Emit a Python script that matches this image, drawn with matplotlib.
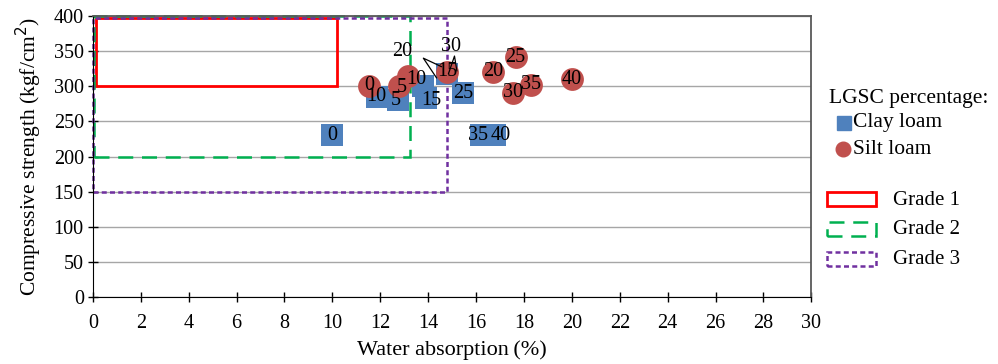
import matplotlib
matplotlib.use("Agg")
import matplotlib.pyplot as plt
from matplotlib.patches import Rectangle
from matplotlib.lines import Line2D

plt.rcParams['font.family'] = ['Liberation Serif', 'DejaVu Serif']

# LGSC percentage for each point
labels = ['0', '5', '10', '15', '20', '25', '30', '35', '40']

# clay loam: water absorption (%), compressive strength (kgf/cm2)
clay_wa = [10.0, 12.75, 11.85, 13.9, 13.8, 15.45, 14.8, 16.2, 16.8]
clay_cs = [230, 280, 285, 283, 300, 290, 318, 230, 230]

# silt loam
silt_wa = [11.55, 12.8, 13.15, 14.8, 16.7, 17.65, 17.55, 18.3, 20.0]
silt_cs = [301, 300, 314, 321, 321, 341, 291, 302, 310]

# grade limits (x0, x1, y0, y1)
grade1 = (0.12, 10.2, 300, 397)
grade2 = (0.07, 13.25, 200, 400)
grade3 = (0.0, 14.8, 150, 397)

blue = '#4F81BD'
red = '#C0504D'

fig = plt.figure(figsize=(9.98, 3.64), dpi=100)
ax = fig.add_axes([0.093, 0.184, 0.72, 0.772])

ax.set_xlim(0, 30)
ax.set_ylim(0, 400)
ax.set_xticks(range(0, 31, 2))
ax.set_yticks(range(0, 401, 50))
ax.yaxis.grid(True, color='#a6a6a6', lw=1)
ax.set_axisbelow(True)
ax.tick_params(direction='inout', length=7, width=1, labelsize=14.5, color='black')
ax.tick_params(axis='y', pad=3)
ax.tick_params(axis='x', pad=9)
for s in ['top', 'right']:
    ax.spines[s].set_color('#595959')
    ax.spines[s].set_linewidth(1.3)
for s in ['left', 'bottom']:
    ax.spines[s].set_color('black')

# grade boxes
def box(lim, **kw):
    x0, x1, y0, y1 = lim
    ax.add_patch(Rectangle((x0, y0), x1 - x0, y1 - y0, fill=False, clip_on=False, zorder=2, **kw))

box(grade1, edgecolor='#FF0000', lw=2)
box(grade2, edgecolor='#00B050', lw=1.8, linestyle=(0, (6, 3.5)))
box(grade3, edgecolor='#7030A0', lw=1.8, linestyle=(0, (2, 1.3)))

ax.scatter(clay_wa, clay_cs, marker='s', s=260, color=blue, zorder=3, linewidths=0)
ax.scatter(silt_wa, silt_cs, marker='o', s=270, color=red, zorder=4, linewidths=0)

# data labels, with manual offsets (points) where they overlap
clay_off = {'5': (-2, 0), '15': (4, -2), '35': (-2, 0), '40': (4, 0)}
silt_off = {'10': (6, -2), '5': (2, -1)}
for lab, x, y in zip(labels, clay_wa, clay_cs):
    if lab in ('20', '30'):
        continue
    dx, dy = clay_off.get(lab, (0, 0))
    ax.annotate(lab, (x, y), xytext=(dx, dy), textcoords='offset points',
                ha='center', va='center', fontsize=14.5, zorder=6)
for lab, x, y in zip(labels, silt_wa, silt_cs):
    dx, dy = silt_off.get(lab, (0, 0))
    ax.annotate(lab, (x, y), xytext=(dx, dy), textcoords='offset points',
                ha='center', va='center', fontsize=14.5, zorder=6)

# clay 20 and 30 labels pulled out with leader lines
ax.text(12.9, 349, '20', ha='center', va='center', fontsize=14.5, zorder=6)
ax.text(14.95, 356, '30', ha='center', va='center', fontsize=14.5, zorder=6)
ax.plot([14.35, 13.8, 14.55], [312, 340, 328], color='black', lw=0.9, zorder=5)
ax.plot([14.85, 15.1, 15.2], [318, 343, 322], color='black', lw=0.9, zorder=5)

ax.set_xlabel('Water absorption\u2009(%)', fontsize=16, labelpad=5)
ax.set_ylabel('Compressive strength (kgf/cm$^2$)', fontsize=15.5, labelpad=7)

# legend drawn in figure coordinates
def fx(px):
    return px / 998

def fy(py):
    return 1 - py / 364

fig.text(fx(829), fy(98), 'LGSC percentage:', fontsize=15.5, va='center', ha='left')
fig.add_artist(Line2D([fx(844)], [fy(123)], marker='s', markersize=10.5, color=blue, lw=0))
fig.text(fx(853), fy(123), 'Clay loam', fontsize=15.5, va='center', ha='left')
fig.add_artist(Line2D([fx(843)], [fy(149)], marker='o', markersize=10.5, color=red, lw=0))
fig.text(fx(853), fy(149), 'Silt loam', fontsize=15.5, va='center', ha='left')

grade_styles = [
    ('Grade 1', dict(edgecolor='#FF0000', lw=2), 199),
    ('Grade 2', dict(edgecolor='#00B050', lw=1.8, linestyle=(0, (6, 3.5))), 229),
    ('Grade 3', dict(edgecolor='#7030A0', lw=1.8, linestyle=(0, (2, 1.3))), 259),
]
for name, kw, py in grade_styles:
    fig.add_artist(Rectangle((fx(827), fy(py + 7)), fx(876) - fx(827), fy(py - 7) - fy(py + 7),
                             fill=False, transform=fig.transFigure, **kw))
    fig.text(fx(893), fy(py + 1), name, fontsize=15, va='center', ha='left')

fig.savefig('out.png', dpi=100)
